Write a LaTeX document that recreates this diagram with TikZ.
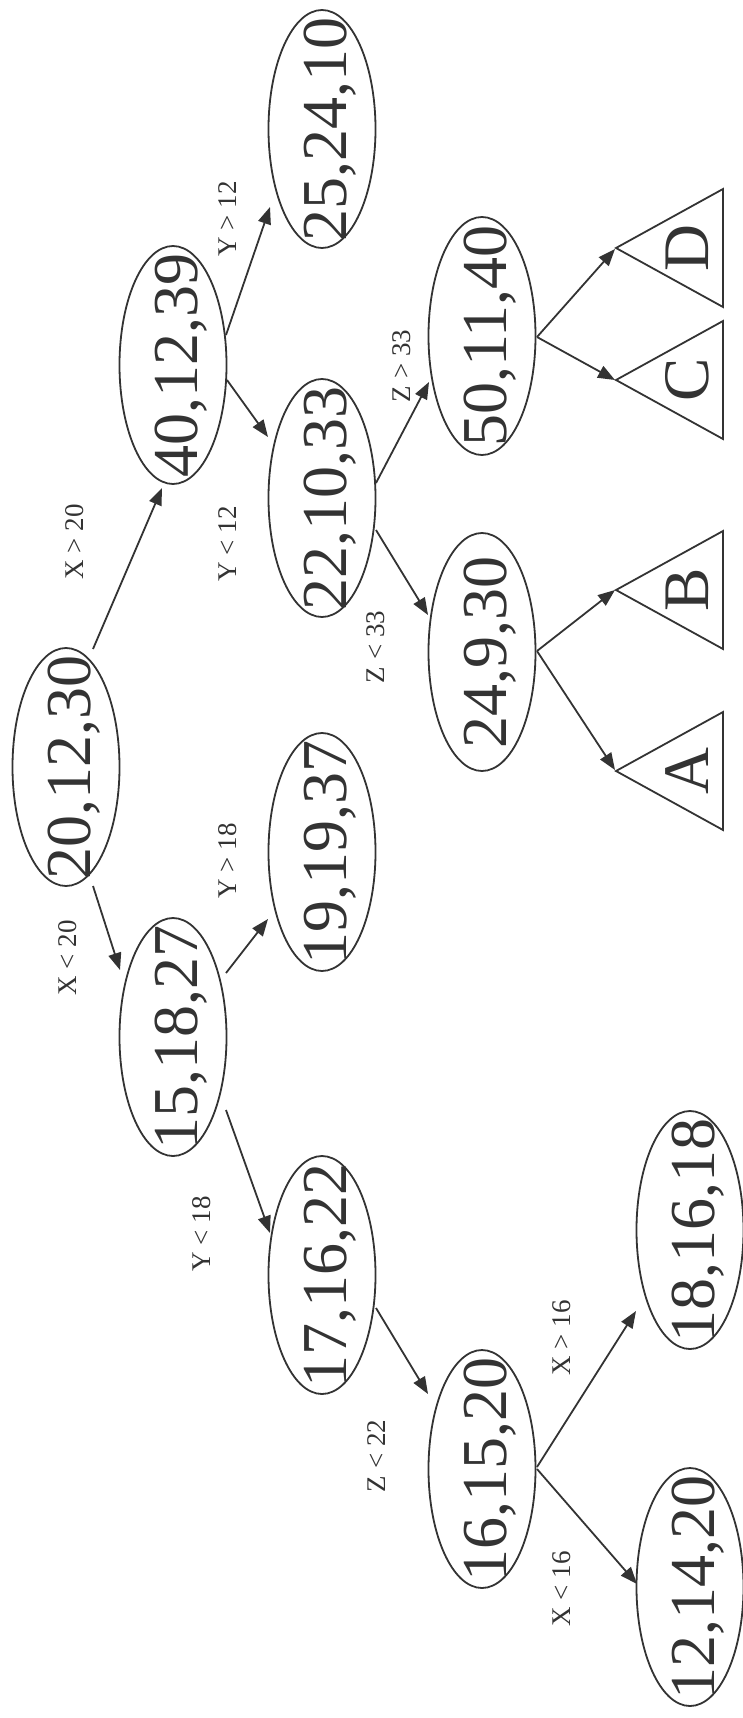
\documentclass[tikz,border=0pt]{standalone}
\usepackage{fontspec}
\setmainfont{Liberation Serif}
\usetikzlibrary{shapes.geometric,arrows.meta,calc}
\definecolor{ink}{HTML}{333333}
\begin{document}
\begin{tikzpicture}[x=1pt,y=-1pt,
  kd/.style={ellipse,draw=ink,line width=1.8pt,minimum width=107pt,minimum height=238pt,inner sep=0pt},
  num/.style={rotate=90,anchor=base,text=ink,font=\fontsize{64}{64}\selectfont,inner sep=0pt},
  lbl/.style={rotate=90,text=ink,font=\fontsize{27}{27}\selectfont,inner sep=0pt},
  edge/.style={draw=ink,line width=1.8pt,-{Triangle[length=17pt,width=13pt]}},
  tri/.style={draw=ink,line width=1.8pt,line join=miter}]
\useasboundingbox (0,0) rectangle (743,1718);

% ellipses
\node[kd] (r)   at (66,767)  {};
\node[kd] (n40) at (173,365) {};
\node[kd] (n25) at (322,129) {};
\node[kd] (n22) at (322,498) {};
\node[kd] (n50) at (482,336) {};
\node[kd] (n24) at (482,652) {};
\node[kd] (n19) at (322,852) {};
\node[kd] (n15) at (173,1037) {};
\node[kd] (n17) at (322,1275) {};
\node[kd] (n16) at (482,1469) {};
\node[kd] (n18) at (690,1230) {};
\node[kd] (n12) at (690,1587) {};

% texts
\node[num] (tr)   at ([xshift=24pt]r.center)   {20,12,30};
\node[num] (t40)  at ([xshift=24pt]n40.center) {40,12,39};
\node[num] (t25)  at ([xshift=24pt]n25.center) {25,24,10};
\node[num] (t22)  at ([xshift=24pt]n22.center) {22,10,33};
\node[num] (t50)  at ([xshift=24pt]n50.center) {50,11,40};
\node[num] (t24)  at ([xshift=24pt]n24.center) {24,9,30};
\node[num] (t19)  at ([xshift=24pt]n19.center) {19,19,37};
\node[num] (t15)  at ([xshift=24pt]n15.center) {15,18,27};
\node[num] (t17)  at ([xshift=24pt]n17.center) {17,16,22};
\node[num] (t16)  at ([xshift=24pt]n16.center) {16,15,20};
\node[num] (t18)  at ([xshift=24pt]n18.center) {18,16,18};
\node[num] (t12)  at ([xshift=24pt]n12.center) {12,14,20};

% subtrees
\coordinate (tD) at (616,248);
\coordinate (tC) at (616,380);
\coordinate (tB) at (616,590);
\coordinate (tA) at (616,771);
\draw[tri] (tD) -- ++(107,-59) -- ++(0,118) -- cycle;
\draw[tri] (tC) -- ++(107,-59) -- ++(0,118) -- cycle;
\draw[tri] (tB) -- ++(107,-59) -- ++(0,118) -- cycle;
\draw[tri] (tA) -- ++(107,-59) -- ++(0,118) -- cycle;
\node[num,font=\fontsize{65}{65}\selectfont] (lD) at ([xshift=92pt]tD) {D};
\node[num,font=\fontsize{65}{65}\selectfont] (lC) at ([xshift=92pt]tC) {C};
\node[num,font=\fontsize{65}{65}\selectfont] (lB) at ([xshift=92pt]tB) {B};
\node[num,font=\fontsize{65}{65}\selectfont] (lA) at ([xshift=92pt]tA) {A};

% edges
\draw[edge] ([shift={(27,-118)}]r.center) -- ([shift={(-11,123)}]n40.center);
\draw[edge] ([shift={(27,119)}]r.center) -- ([shift={(-53,-67)}]n15.center);
\draw[edge] ([shift={(53,-30)}]n40.center) -- ([shift={(-52,78)}]n25.center);
\draw[edge] ([shift={(54,15)}]n40.center) -- ([shift={(-54,-61)}]n22.center);
\draw[edge] ([shift={(54,-15)}]n22.center) -- ([shift={(-53,46)}]n50.center);
\draw[edge] ([shift={(54,32)}]n22.center) -- ([shift={(-54,-37)}]n24.center);
\draw[edge] ([shift={(55,1)}]n50.center) -- ([shift={(-1,1)}]tD);
\draw[edge] ([shift={(55,1)}]n50.center) -- ([shift={(-1,0)}]tC);
\draw[edge] ([shift={(55,-1)}]n24.center) -- ([shift={(-1,0)}]tB);
\draw[edge] ([shift={(55,-1)}]n24.center) -- ([shift={(-1,-1)}]tA);
\draw[edge] ([shift={(53,-64)}]n15.center) -- ([shift={(-54,67)}]n19.center);
\draw[edge] ([shift={(53,73)}]n15.center) -- ([shift={(-52,-42)}]n17.center);
\draw[edge] ([shift={(54,33)}]n17.center) -- ([shift={(-54,-75)}]n16.center);
\draw[edge] ([shift={(55,-2)}]n16.center) -- ([shift={(-54,81)}]n18.center);
\draw[edge] ([shift={(55,0)}]n16.center) -- ([shift={(-53,-3)}]n12.center);

% labels
\node[lbl] (e1) at (75,542)  {X > 20};
\node[lbl] (e2) at (68,958)  {X < 20};
\node[lbl] (e3) at (228,219) {Y > 12};
\node[lbl] (e4) at (228,544) {Y < 12};
\node[lbl] (e5) at (228,861) {Y > 18};
\node[lbl] (e6) at (202,1234) {Y < 18};
\node[lbl] (e7) at (402,366) {Z > 33};
\node[lbl] (e8) at (376,647) {Z < 33};
\node[lbl] (e9) at (377,1456) {Z < 22};
\node[lbl] (e10) at (562,1338) {X > 16};
\node[lbl] (e11) at (562,1589) {X < 16};
\end{tikzpicture}
\end{document}
